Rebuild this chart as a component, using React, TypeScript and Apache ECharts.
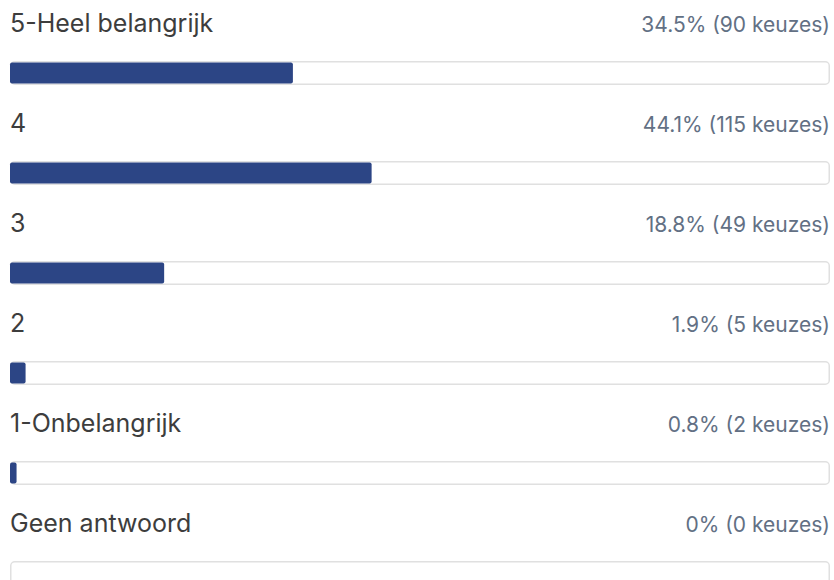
import React, { useEffect, useRef } from "react";
import * as echarts from "echarts";

const categories = ["5-Heel belangrijk", "4", "3", "2", "1-Onbelangrijk", "Geen antwoord"];
const percentages = [34.5, 44.1, 18.8, 1.9, 0.8, 0];
const counts = [90, 115, 49, 5, 2, 0];

export default function App() {
  const ref = useRef<HTMLDivElement>(null);
  useEffect(() => {
    if (!ref.current) return;
    const chart = echarts.init(ref.current, undefined, { renderer: "svg" });
    const full = categories.map(() => 100);
    const yBase = {
      type: "category" as const,
      data: categories,
      inverse: true,
      show: false,
    };
    chart.setOption({
      animation: false,
      grid: { left: 10, right: 4, top: 23, height: 600 },
      xAxis: [{ type: "value", min: 0, max: 100, show: false }],
      yAxis: [{ ...yBase }, { ...yBase }],
      series: [
        {
          type: "bar",
          yAxisIndex: 0,
          data: full,
          barWidth: 24,
          silent: true,
          itemStyle: { color: "#ffffff", borderColor: "#e0e0e0", borderWidth: 1.5, borderRadius: 4 },
          label: {
            show: true,
            position: [0, -38],
            align: "left",
            verticalAlign: "middle",
            formatter: (p: any) => categories[p.dataIndex],
            fontFamily: "Inter",
            fontSize: 25,
            color: "#3d3d3d",
          },
        },
        {
          type: "bar",
          yAxisIndex: 0,
          data: full,
          barWidth: 24,
          barGap: "-100%",
          silent: true,
          itemStyle: { color: "rgba(0,0,0,0)" },
          label: {
            show: true,
            position: ["100%", -37],
            align: "right",
            verticalAlign: "middle",
            formatter: (p: any) => `${percentages[p.dataIndex]}% (${counts[p.dataIndex]} keuzes)`,
            fontFamily: "Inter",
            fontSize: 21,
            color: "#627084",
          },
        },
        {
          type: "bar",
          yAxisIndex: 1,
          data: percentages,
          barWidth: 21,
          silent: true,
          itemStyle: { color: "#2c4585", borderRadius: 2 },
        },
      ],
    });
    return () => chart.dispose();
  }, []);
  return (
    <div style={{ position: "fixed", left: 0, top: 0, width: 834, height: 580, overflow: "hidden", background: "#ffffff" }}>
      <div ref={ref} style={{ width: 834, height: 680 }} />
    </div>
  );
}
